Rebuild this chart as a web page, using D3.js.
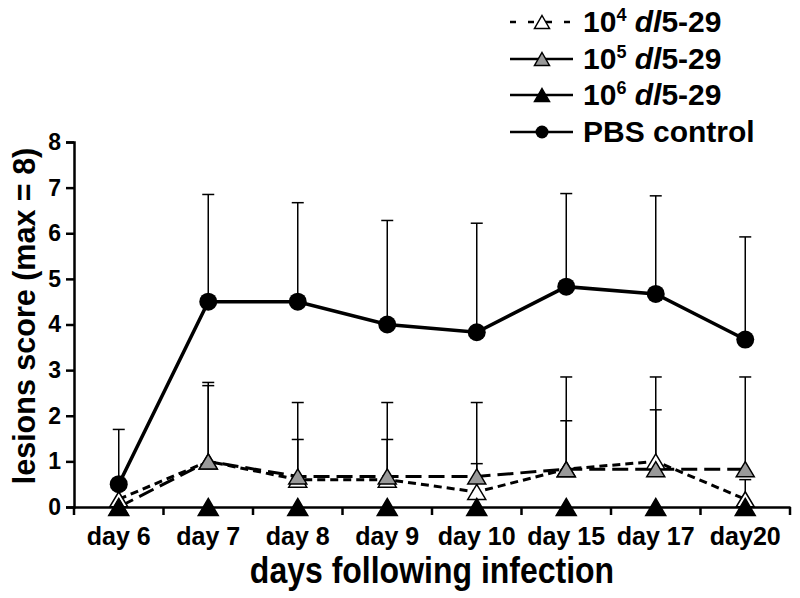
<!DOCTYPE html>
<html>
<head>
<meta charset="utf-8">
<script src="https://cdn.jsdelivr.net/npm/d3@7"></script>
<style>
  html, body { margin: 0; padding: 0; background: #fff; }
  svg { display: block; font-family: "Liberation Sans", Arial, Helvetica, sans-serif; }
</style>
</head>
<body>
<svg id="chart" width="800" height="598"></svg>
<script>
// ---- data ----
const categories = ["day 6", "day 7", "day 8", "day 9", "day 10", "day 15", "day 17", "day20"];
const yTicks = [0, 1, 2, 3, 4, 5, 6, 7, 8];

const pbsValues = [0.5, 4.5, 4.5, 4.0, 3.83, 4.83, 4.67, 3.67];
const pbsUpper  = [1.7, 6.85, 6.67, 6.28, 6.22, 6.87, 6.82, 5.92];

const dose4Values = [0.17, 1.0, 0.6, 0.6, 0.33, 0.83, 1.0, 0.17];
const dose4Upper  = [null, 2.73, 1.48, 1.48, 0.95, 1.89, 2.13, 0.6];

const dose5Values = [0, 1.0, 0.67, 0.67, 0.67, 0.83, 0.83, 0.83];
const dose5Upper  = [null, 2.66, 2.29, 2.29, 2.29, 2.85, 2.85, 2.85];

const dose6Values = [0, 0, 0, 0, 0, 0, 0, 0];

const legendLabels = [
  { exp: "4", rest: "5-29" },
  { exp: "5", rest: "5-29" },
  { exp: "6", rest: "5-29" },
  { plain: "PBS control" }
];

// ---- layout ----
const svg = d3.select("#chart");
const x0 = 74, x1 = 790, yBottom = 507, yTop = 142;

const x = d3.scaleBand().domain(categories).range([x0, x1]).padding(0);
const y = d3.scaleLinear().domain([0, 8]).range([yBottom, yTop]);
const cx = d => x(d) + x.bandwidth() / 2;

// axes
const yAxis = d3.axisLeft(y).tickValues(yTicks).tickSize(8).tickPadding(5).tickFormat(d3.format("d"));
const gy = svg.append("g").attr("transform", `translate(${x0},0)`).call(yAxis);
gy.select(".domain").attr("stroke", "#000").attr("stroke-width", 2.5);
gy.selectAll(".tick line").attr("stroke", "#000").attr("stroke-width", 2.5);
gy.selectAll(".tick text").attr("font-size", 23).attr("font-weight", "bold").attr("fill", "#000")
  .attr("font-family", "Liberation Sans, Arial, sans-serif");

const gx = svg.append("g").attr("transform", `translate(0,${yBottom})`).call(d3.axisBottom(x).tickSize(0));
gx.select(".domain").attr("stroke", "#000").attr("stroke-width", 2.5);
gx.selectAll(".tick text").attr("font-size", 25).attr("font-weight", "bold").attr("fill", "#000")
  .attr("font-family", "Liberation Sans, Arial, sans-serif")
  .attr("y", 38).attr("dy", 0);
// category boundary ticks
const bounds = categories.map(c => x(c)).concat([x1]);
svg.append("g").selectAll("line").data(bounds).join("line")
  .attr("x1", d => d).attr("x2", d => d)
  .attr("y1", yBottom).attr("y2", yBottom + 8)
  .attr("stroke", "#000").attr("stroke-width", 2.5);

// axis titles
svg.append("text")
  .attr("transform", `translate(35,316) rotate(-90)`)
  .attr("text-anchor", "middle")
  .attr("font-size", 30.5).attr("font-weight", "bold").attr("fill", "#000")
  .text("lesions score (max = 8)");

svg.append("text")
  .attr("transform", `translate(${(x0 + x1) / 2},583) scale(1,1.15)`)
  .attr("text-anchor", "middle")
  .attr("font-size", 32).attr("font-weight", "bold").attr("fill", "#000")
  .text("days following infection");

// helpers
function triPath(w, h) {
  return `M0,${-h / 2}L${w / 2},${h / 2}L${-w / 2},${h / 2}Z`;
}
function errorBars(values, upper) {
  const g = svg.append("g");
  const data = categories.map((c, i) => ({ c, v: values[i], u: upper[i] })).filter(d => d.u != null);
  g.selectAll("line.stem").data(data).join("line")
    .attr("x1", d => cx(d.c)).attr("x2", d => cx(d.c))
    .attr("y1", d => y(d.v)).attr("y2", d => y(d.u))
    .attr("stroke", "#000").attr("stroke-width", 1.5);
  g.selectAll("line.cap").data(data).join("line")
    .attr("x1", d => cx(d.c) - 6).attr("x2", d => cx(d.c) + 6)
    .attr("y1", d => y(d.u)).attr("y2", d => y(d.u))
    .attr("stroke", "#000").attr("stroke-width", 1.5);
}
function seriesLine(values, dash, width) {
  const line = d3.line().x((d, i) => cx(categories[i])).y(d => y(d));
  svg.append("path").datum(values)
    .attr("d", line).attr("fill", "none")
    .attr("stroke", "#000").attr("stroke-width", width)
    .attr("stroke-dasharray", dash);
}
function triangles(values, fill, w, h) {
  svg.append("g").selectAll("path").data(values).join("path")
    .attr("transform", (d, i) => `translate(${cx(categories[i])},${y(d)})`)
    .attr("d", triPath(w, h))
    .attr("fill", fill).attr("stroke", "#000").attr("stroke-width", 1.5);
}

// error bars
errorBars(pbsValues, pbsUpper);
errorBars(dose4Values, dose4Upper);
errorBars(dose5Values, dose5Upper);

// lines
seriesLine(pbsValues, null, 3.5);
seriesLine(dose4Values, "8,5", 3);
seriesLine(dose5Values, "16,7", 3);

// markers
triangles(dose4Values, "#fff", 18, 15);
triangles(dose5Values, "#999", 18, 15);
triangles(dose6Values, "#000", 20, 17);
svg.append("g").selectAll("circle").data(pbsValues).join("circle")
  .attr("cx", (d, i) => cx(categories[i])).attr("cy", d => y(d))
  .attr("r", 9).attr("fill", "#000");

// legend
const legY = [22, 59, 95, 132];
const lx0 = 510, lx1 = 573, lmx = 542, ltx = 583;
const lg = svg.append("g");
// 10^4 dashed
lg.append("line").attr("x1", lx0).attr("x2", lx1).attr("y1", legY[0]).attr("y2", legY[0])
  .attr("stroke", "#000").attr("stroke-width", 2.5).attr("stroke-dasharray", "6,12");
lg.append("path").attr("transform", `translate(${lmx},${legY[0]})`).attr("d", triPath(15, 13))
  .attr("fill", "#fff").attr("stroke", "#000").attr("stroke-width", 1.5);
// 10^5
lg.append("line").attr("x1", lx0).attr("x2", lx1).attr("y1", legY[1]).attr("y2", legY[1])
  .attr("stroke", "#000").attr("stroke-width", 2.5);
lg.append("path").attr("transform", `translate(${lmx},${legY[1]})`).attr("d", triPath(15, 13))
  .attr("fill", "#999").attr("stroke", "#000").attr("stroke-width", 1.5);
// 10^6
lg.append("line").attr("x1", lx0).attr("x2", lx1).attr("y1", legY[2]).attr("y2", legY[2])
  .attr("stroke", "#000").attr("stroke-width", 2.5);
lg.append("path").attr("transform", `translate(${lmx},${legY[2]})`).attr("d", triPath(15, 13))
  .attr("fill", "#000").attr("stroke", "#000").attr("stroke-width", 1.5);
// PBS
lg.append("line").attr("x1", lx0).attr("x2", lx1).attr("y1", legY[3]).attr("y2", legY[3])
  .attr("stroke", "#000").attr("stroke-width", 2.5);
lg.append("circle").attr("cx", lmx).attr("cy", legY[3]).attr("r", 6.5).attr("fill", "#000");

legendLabels.forEach((lab, i) => {
  const t = lg.append("text").attr("x", ltx).attr("y", legY[i] + 10)
    .attr("font-size", 30).attr("font-weight", "bold").attr("fill", "#000");
  if (lab.plain) {
    t.text(lab.plain);
  } else {
    t.append("tspan").text("10");
    t.append("tspan").attr("font-size", 18).attr("dy", -11).text(lab.exp);
    t.append("tspan").attr("dy", 11).attr("font-style", "italic").text(" dl");
    t.append("tspan").text(lab.rest);
  }
});
</script>
</body>
</html>
